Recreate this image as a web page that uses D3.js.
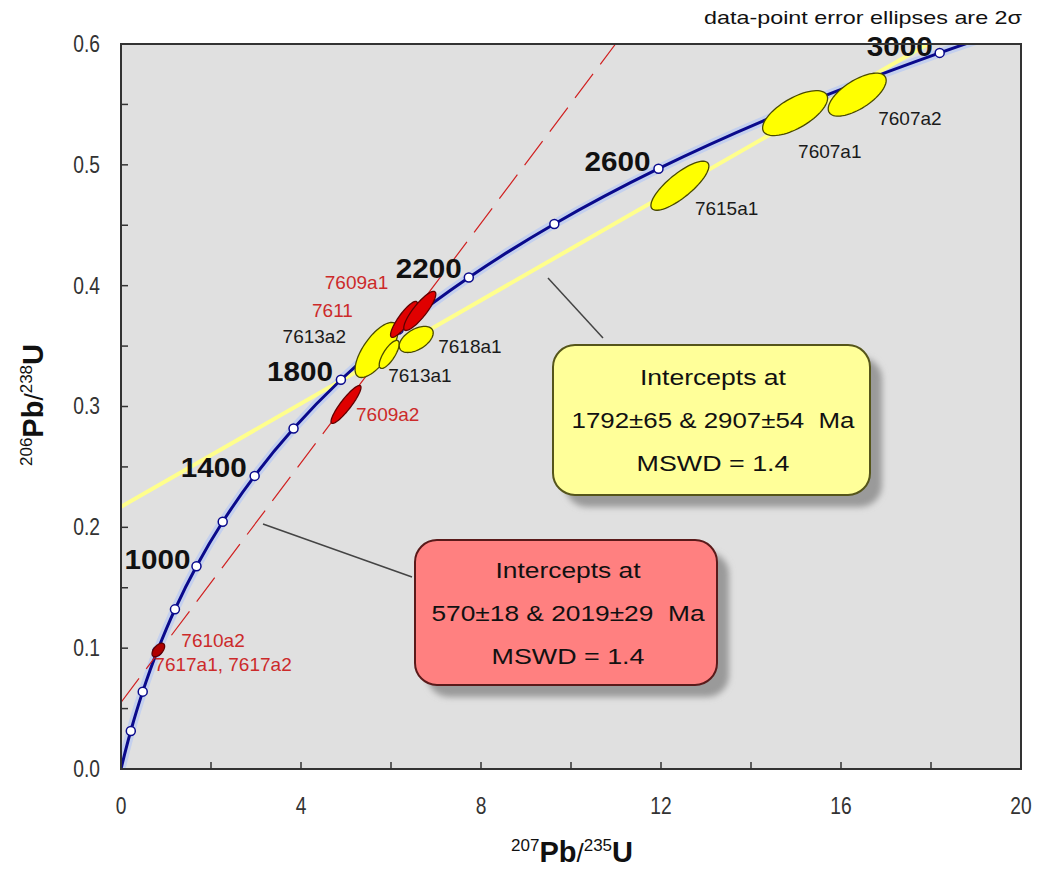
<!DOCTYPE html>
<html><head><meta charset="utf-8">
<script src="https://cdn.jsdelivr.net/npm/d3@7"></script>
<style>
html,body{margin:0;padding:0;background:#fff;}
svg text{font-family:"Liberation Sans",Arial,sans-serif;}
</style></head>
<body>
<svg id="chart" width="1040" height="871"></svg>
<script>
// ---------- DATA ----------
// Concordia curve points (age Ma, 207Pb/235U, 206Pb/238U)
const concordiaAge = [0,100,200,300,400,500,600,800,1000,1200,1400,1600,1800,2000,2200,2400,2600,2800,3000,3100];
const concordiaX   = [0,0.1035,0.2177,0.3437,0.4828,0.6363,0.8056,1.1988,1.6774,2.2603,2.9701,3.8344,4.8869,6.1685,7.7292,9.6296,11.944,14.762,18.193,20.18];
const concordiaY   = [0,0.01563,0.03151,0.04764,0.06402,0.08065,0.09754,0.13213,0.16781,0.20460,0.24258,0.28173,0.32211,0.36377,0.40674,0.45107,0.49680,0.54397,0.59263,0.61751];
const markerAges   = [200,400,600,800,1000,1200,1400,1600,1800,2000,2200,2400,2600,2800,3000];
const labelAges    = [1000,1400,1800,2200,2600,3000];

// Discordia lines (endpoints in data units)
const yellowLineX = [0, 17.93];
const yellowLineY = [0.217, 0.6];
const redLineX    = [0, 10.99];
const redLineY    = [0.0551, 0.6];

// Analyses: 2-sigma error ellipses
const sampleNames = ["7607a1","7607a2","7615a1","7613a2","7613a1","7618a1","7611","7609a1","7609a2","7610a2"];
const sampleGroup = ["y","y","y","y","y","y","r","r","r","r"];
const sampleX     = [14.98,16.36,12.42,5.68,5.96,6.56,6.29,6.64,5.00,0.83];
const sampleY     = [0.5428,0.5581,0.4827,0.3468,0.3431,0.3555,0.3721,0.3791,0.3017,0.0985];
const sampleSX    = [0.722,0.644,0.644,0.478,0.222,0.378,0.300,0.356,0.333,0.140];
const sampleSY    = [0.0186,0.0178,0.0203,0.0228,0.0116,0.0108,0.0149,0.0162,0.0157,0.0056];
const sampleRho   = [0.66,0.66,0.80,0.70,0.75,0.50,0.86,0.86,0.90,0.55];
const extraLabel  = "7617a1, 7617a2";

// Axis ticks
const xTickLabels = [0,4,8,12,16,20];
const yTickLabels = [0.0,0.1,0.2,0.3,0.4,0.5,0.6];

// Result boxes text
const yellowBoxText = ["Intercepts at","1792±65 & 2907±54\u00a0\u00a0Ma","MSWD = 1.4"];
const redBoxText    = ["Intercepts at","570±18 & 2019±29\u00a0\u00a0Ma","MSWD = 1.4"];
const noteText = "data-point error ellipses are 2σ";

// ---------- LAYOUT ----------
const M = {left:121, right:1021, top:44, bottom:769};
const svg = d3.select("#chart");
const x = d3.scaleLinear().domain([0,20]).range([M.left, M.right]);
const y = d3.scaleLinear().domain([0,0.6]).range([M.bottom, M.top]);

const defs = svg.append("defs");
defs.append("clipPath").attr("id","plotclip").append("rect")
  .attr("x",M.left).attr("y",M.top).attr("width",M.right-M.left).attr("height",M.bottom-M.top);
const blur = defs.append("filter").attr("id","shadow").attr("x","-20%").attr("y","-20%").attr("width","140%").attr("height","140%");
blur.append("feGaussianBlur").attr("stdDeviation",3);

// background
svg.append("rect").attr("x",M.left).attr("y",M.top).attr("width",M.right-M.left).attr("height",M.bottom-M.top)
  .attr("fill","#e0e0e0");

const plot = svg.append("g").attr("clip-path","url(#plotclip)");

// concordia
const concPts = concordiaAge.map((a,i)=>[concordiaX[i],concordiaY[i]]);
const line = d3.line().x(d=>x(d[0])).y(d=>y(d[1])).curve(d3.curveCatmullRom.alpha(0.5));
plot.append("path").attr("d",line(concPts)).attr("fill","none").attr("stroke","#c4d0ee").attr("stroke-width",9);

// yellow discordia
plot.append("line").attr("x1",x(yellowLineX[0])).attr("y1",y(yellowLineY[0]))
  .attr("x2",x(yellowLineX[1])).attr("y2",y(yellowLineY[1]))
  .attr("stroke","#ffff8c").attr("stroke-width",4);

plot.append("path").attr("d",line(concPts)).attr("fill","none").attr("stroke","#0a0a8c").attr("stroke-width",3);

// red dashed discordia
plot.append("line").attr("x1",x(redLineX[0])).attr("y1",y(redLineY[0]))
  .attr("x2",x(redLineX[1])).attr("y2",y(redLineY[1]))
  .attr("stroke","#d02020").attr("stroke-width",1.2).attr("stroke-dasharray","30,12");

// markers (drawn below the ellipses)
const markerPts = markerAges.map(a=>{const i=concordiaAge.indexOf(a);return [concordiaX[i],concordiaY[i],a];});
plot.selectAll("circle.mk").data(markerPts).join("circle").attr("class","mk")
  .attr("cx",d=>x(d[0])).attr("cy",d=>y(d[1])).attr("r",4.5)
  .attr("fill","#fff").attr("stroke","#0a0a8c").attr("stroke-width",1.5);

// ellipses
function ellipsePath(i){
  const pts=[];
  const r=sampleRho[i], s=Math.sqrt(1-r*r);
  for(let k=0;k<=72;k++){
    const t=k/72*2*Math.PI;
    pts.push([sampleX[i]+sampleSX[i]*Math.cos(t), sampleY[i]+sampleSY[i]*(r*Math.cos(t)+s*Math.sin(t))]);
  }
  return d3.line().x(d=>x(d[0])).y(d=>y(d[1]))(pts)+"Z";
}
plot.selectAll("path.ell").data(d3.range(sampleNames.length)).join("path").attr("class","ell")
  .attr("d",i=>ellipsePath(i))
  .attr("fill",i=>sampleGroup[i]==="y"?"#ffff00":(i===9?"#b00000":"#e00000"))
  .attr("stroke",i=>sampleGroup[i]==="y"?"#4a4a00":"#600000")
  .attr("stroke-width",1.3);

// age labels
const ageOff = {1000:[-6,3],1400:[-8,1],1800:[-8,1],2200:[-7,0],2600:[-8,2],3000:[-7,3]};
svg.selectAll("text.age").data(labelAges).join("text").attr("class","age")
  .attr("x",a=>x(concordiaX[concordiaAge.indexOf(a)])+ageOff[a][0])
  .attr("y",a=>y(concordiaY[concordiaAge.indexOf(a)])+ageOff[a][1])
  .attr("text-anchor","end")
  .attr("textLength",66).attr("lengthAdjust","spacingAndGlyphs")
  .style("font-weight","bold").style("font-size","27px").attr("fill","#111")
  .text(a=>a);

// sample labels (pixel offsets: left edge, vertical centre, from ellipse centres)
const labelOffsets = {
  "7607a1":[3,38],"7607a2":[21,23],"7615a1":[15,22],"7613a2":[-94,-14],"7613a1":[-1,21],
  "7618a1":[22,7],"7611":[-92,-9],"7609a1":[-95,-29],"7609a2":[10,10],"7610a2":[23,-10]
};
const labelG = svg.append("g").style("font-size","19px");
sampleNames.forEach((n,i)=>{
  const o=labelOffsets[n];
  labelG.append("text").attr("x",x(sampleX[i])+o[0]).attr("y",y(sampleY[i])+o[1]+7)
    .attr("fill",sampleGroup[i]==="y"?"#1a1a1a":"#cc2a2a").text(n);
});
labelG.append("text").attr("x",x(sampleX[9])-4).attr("y",y(sampleY[9])+14+7)
  .attr("fill","#cc2a2a").text(extraLabel);

// frame
svg.append("rect").attr("x",M.left).attr("y",M.top).attr("width",M.right-M.left).attr("height",M.bottom-M.top)
  .attr("fill","none").attr("stroke","#333").attr("stroke-width",2);

// ticks (inward)
const xMinor = d3.range(0,21,2), yMinor = d3.range(0,0.6001,0.05);
svg.selectAll("line.xt").data(xMinor).join("line").attr("class","xt")
  .attr("x1",d=>x(d)).attr("x2",d=>x(d)).attr("y1",M.bottom).attr("y2",M.bottom-7).attr("stroke","#333").attr("stroke-width",1.5);
svg.selectAll("line.yt").data(yMinor).join("line").attr("class","yt")
  .attr("y1",d=>y(d)).attr("y2",d=>y(d)).attr("x1",M.left).attr("x2",M.left+7).attr("stroke","#333").attr("stroke-width",1.5);
svg.selectAll("text.xl").data(xTickLabels).join("text").attr("class","xl")
  .attr("x",d=>x(d)).attr("y",M.bottom+45).attr("text-anchor","middle")
  .attr("transform",d=>`translate(${x(d)*0.2},0) scale(0.8,1)`)
  .style("font-size","24px").attr("fill","#333").text(d=>d);
svg.selectAll("text.yl").data(yTickLabels).join("text").attr("class","yl")
  .attr("x",M.left-21).attr("y",d=>y(d)+8).attr("text-anchor","end")
  .attr("transform",`translate(${(M.left-21)*0.2},0) scale(0.8,1)`)
  .style("font-size","24px").attr("fill","#333").text(d=>d3.format(".1f")(d));

// axis titles
const xt = svg.append("text").attr("x",572).attr("y",862).attr("text-anchor","middle").attr("fill","#111");
xt.append("tspan").text("207").style("font-size","17px").attr("dy","-11");
xt.append("tspan").text("Pb").style("font-size","29px").style("font-weight","bold").attr("dy","11");
xt.append("tspan").text("/").style("font-size","26px");
xt.append("tspan").text("235").style("font-size","17px").attr("dy","-11");
xt.append("tspan").text("U").style("font-size","29px").style("font-weight","bold").attr("dy","11");

const yt = svg.append("text").attr("transform","translate(43,405) rotate(-90)").attr("text-anchor","middle").attr("fill","#111");
yt.append("tspan").text("206").style("font-size","17px").attr("dy","-11");
yt.append("tspan").text("Pb").style("font-size","29px").style("font-weight","bold").attr("dy","11");
yt.append("tspan").text("/").style("font-size","26px");
yt.append("tspan").text("238").style("font-size","17px").attr("dy","-11");
yt.append("tspan").text("U").style("font-size","29px").style("font-weight","bold").attr("dy","11");

// note
svg.append("text").attr("x",1022).attr("y",24).attr("text-anchor","end").style("font-size","19px").attr("fill","#111")
  .attr("textLength",318).attr("lengthAdjust","spacingAndGlyphs").text(noteText);

// leader lines
svg.append("line").attr("x1",548).attr("y1",278).attr("x2",603).attr("y2",338).attr("stroke","#444").attr("stroke-width",1.5);
svg.append("line").attr("x1",263).attr("y1",524).attr("x2",412).attr("y2",577).attr("stroke","#444").attr("stroke-width",1.5);

// boxes
function box(x0,y0,w,h,fill,stroke,lines,lens,cx){
  const g=svg.append("g");
  g.append("rect").attr("x",x0+12).attr("y",y0+12).attr("width",w).attr("height",h).attr("rx",22)
    .attr("fill","#9a9a9a").attr("filter","url(#shadow)");
  g.append("rect").attr("x",x0).attr("y",y0).attr("width",w).attr("height",h).attr("rx",22)
    .attr("fill",fill).attr("stroke",stroke).attr("stroke-width",2);
  lines.forEach((t,k)=>{
    g.append("text").attr("x",cx).attr("y",y0+h/2+(k-1)*43+8).attr("text-anchor","middle")
      .attr("textLength",lens[k]).attr("lengthAdjust","spacingAndGlyphs")
      .style("font-size","22px").attr("fill","#111").text(t);
  });
}
box(553,345,317,150,"#ffff99","#55551a",yellowBoxText,[146,283,153],713);
box(415,540,302,145,"#ff8080","#5a1a1a",redBoxText,[145,273,153],568);
</script>
</body></html>
